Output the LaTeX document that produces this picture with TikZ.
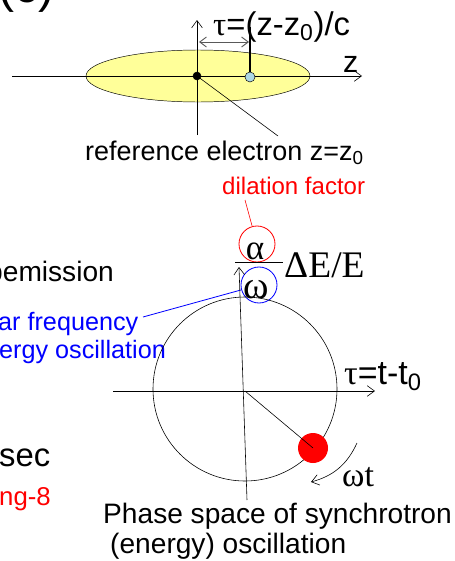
\documentclass[tikz,border=0pt]{standalone}
\usepackage{fontspec}
\setmainfont{Liberation Sans}
\newfontfamily\serifgr{Liberation Serif}
\usetikzlibrary{arrows.meta, shapes.geometric}
\definecolor{bunchyellow}{RGB}{255,255,153}
\definecolor{eblue}{RGB}{173,216,230}
\newcommand{\fsz}[1]{\fontsize{#1}{1.2\dimexpr#1pt\relax}\selectfont}

\begin{document}
\begin{tikzpicture}[x=0.03cm, y=-0.03cm,
  ax/.style={-{Straight Barb[length=2.2mm, width=3.2mm]}, line width=0.5pt},
  txt/.style={inner sep=0, anchor=base west},
  dot/.style={circle, inner sep=0, draw},
  sym/.style={inner sep=0, font=\serifgr\fsz{30}}]
  \useasboundingbox (0,0) rectangle (455,561);
  \node[txt, font=\fsz{41}] (tag) at (-2,3) {(c)};
  % bunch along z
  \node[ellipse, draw, fill=bunchyellow, minimum width=6.72cm, minimum height=1.56cm] (bunch) at (198,76) {};
  \coordinate (zL) at (12,76);
  \coordinate (zR) at (362,76);
  \draw[ax] (zL) -- (zR);
  \coordinate (vB) at (197,135);
  \coordinate (vT) at (197,20);
  \draw[ax] (vB) -- (vT);
  \node[dot, fill=black, minimum size=0.24cm] (ref) at (197,76) {};
  \node[dot, fill=eblue, minimum size=0.3cm] (elec) at (250,77) {};
  \coordinate (elecTop) at (250,27);
  \draw[line width=1.3pt] (elec.north) -- (elecTop);
  \coordinate (dA) at (199,42);
  \coordinate (dB) at (249,42);
  \draw[gray!70!black, line width=0.8pt, {Straight Barb[length=2mm, width=3mm]}-{Straight Barb[length=2mm, width=3mm]}] (dA) -- (dB);
  \node[txt, font=\fsz{28}] (tau) at (213,35) {{\serifgr τ}=(z-z\textsubscript{0})/c};
  \node[txt, font=\fsz{26}] (zlab) at (343,72) {z};
  \coordinate (refEnd) at (278,136);
  \draw[line width=0.5pt] (ref.center) -- (refEnd);
  \node[txt, font=\fsz{23}] (reflab) at (85,160) {reference electron z=z\textsubscript{0}};
  \node[txt, font=\fsz{20.5}, text=red] (dil) at (222,194) {dilation factor};
  % alpha/omega over the dE/E axis
  \node[dot, draw=red, line width=0.7pt, minimum size=1.08cm] (redc) at (257,244) {};
  \node[dot, draw=blue, line width=0.7pt, minimum size=1.08cm] (bluec) at (259,285) {};
  \node[sym] (alpha) at (255,251) {α};
  \node[sym, font=\serifgr\fsz{33}] (omega) at (256,290) {ω};
  \coordinate (fracL) at (235,262);
  \coordinate (fracR) at (283,262);
  \draw[line width=0.7pt] (fracL) -- (fracR);
  \node[txt, font=\serifgr\fsz{32}] (dEE) at (284,277) {ΔE/E};
  \coordinate (dilEnd) at (245,200);
  \draw[red, line width=0.5pt] (dilEnd) -- (redc);
  \node[txt, font=\fsz{24}] (emis) at (-13,281) {pemission};
  \node[txt, font=\fsz{21.5}, text=blue] (freq1) at (-2,330) {ar frequency};
  \node[txt, font=\fsz{21.5}, text=blue] (freq2) at (-1,358) {ergy oscillation};
  \coordinate (freqEnd) at (143,317);
  \draw[blue, line width=0.7pt] (freqEnd) -- (bluec);
  % phase space
  \node[dot, line width=0.5pt, minimum size=5.52cm] (ps) at (245,389) {};
  \coordinate (hL) at (113,391);
  \coordinate (hR) at (375,391);
  \draw[ax] (hL) -- (hR);
  \coordinate (pB) at (247,500);
  \coordinate (pT) at (239,267);
  \draw[ax] (pB) -- (pT);
  \node[circle, fill=red, inner sep=0, minimum size=0.9cm] (part) at (313,448) {};
  \draw[line width=0.5pt] (245,391) -- (part.center);
  \node[txt, font=\fsz{29}] (taut) at (344,384) {{\serifgr τ}=t-t\textsubscript{0}};
  \coordinate (wA) at (357,443);
  \coordinate (wB) at (311,482);
  \draw[ax] (wA) to[bend left=25] (wB);
  \node[txt, font=\serifgr\fsz{29}] (wt) at (342,486) {ωt};
  \node[txt, font=\fsz{28}] (sec) at (-1,466) {sec};
  \node[txt, font=\fsz{22}, text=red] (ng) at (-1,505) {ng-8};
  \node[txt, font=\fsz{24}] (ps1) at (103,523) {Phase space of synchrotron};
  \node[txt, font=\fsz{24}] (ps2) at (110,553) {(energy) oscillation};
\end{tikzpicture}
\end{document}
